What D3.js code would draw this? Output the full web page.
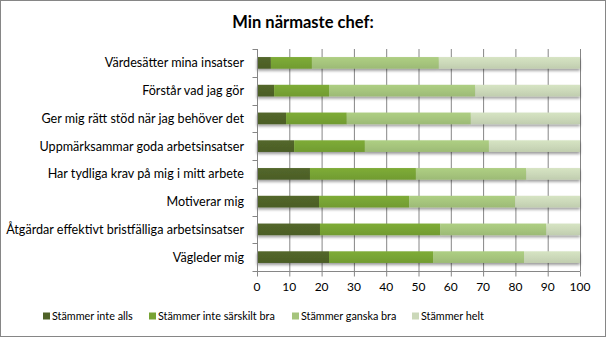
<!DOCTYPE html>
<html>
<head>
<meta charset="utf-8">
<script src="https://cdn.jsdelivr.net/npm/d3@7"></script>
<style>
  html, body { margin: 0; padding: 0; background: #fff; }
  svg { display: block; }
  text { font-family: Lato, "Open Sans", sans-serif; fill: #000; }
</style>
</head>
<body>
<svg id="chart" width="606" height="337"></svg>
<script>
// Survey statements (top to bottom)
const categories = [
  "Värdesätter mina insatser",
  "Förstår vad jag gör",
  "Ger mig rätt stöd när jag behöver det",
  "Uppmärksammar goda arbetsinsatser",
  "Har tydliga krav på mig i mitt arbete",
  "Motiverar mig",
  "Åtgärdar effektivt bristfälliga arbetsinsatser",
  "Vägleder mig"
];

// Answer options
const seriesNames = [
  "Stämmer inte alls",
  "Stämmer inte särskilt bra",
  "Stämmer ganska bra",
  "Stämmer helt"
];

// Percent of answers per statement, one array per answer option
const inteAlls      = [4.3, 5.3, 9.0, 11.5, 16.4, 19.2, 19.5, 22.3];
const inteSarskilt  = [12.7, 17.0, 18.8, 21.9, 32.8, 27.9, 37.2, 32.2];
const ganskaBra     = [39.3, 45.3, 38.4, 38.4, 34.2, 32.8, 32.9, 28.2];
const helt          = [43.7, 32.4, 33.8, 28.2, 16.6, 20.1, 10.4, 17.3];

const xTicks = [0, 10, 20, 30, 40, 50, 60, 70, 80, 90, 100];

const colors = ["#4f6228", "#77a334", "#a5c47c", "#cbd8b9"];

const svg = d3.select("#chart");
const W = 606, H = 337;

// outer frame
svg.append("rect")
  .attr("x", 0.5).attr("y", 0.5)
  .attr("width", W - 1).attr("height", H - 1)
  .attr("fill", "#fff").attr("stroke", "#868686");

const plot = { left: 257, right: 580, top: 49, bottom: 271 };

const x = d3.scaleLinear().domain([0, 100]).range([plot.left, plot.right]);
const y = d3.scaleBand().domain(categories)
  .range([plot.top, plot.bottom]).paddingInner(0.58).paddingOuter(0.29);

const defs = svg.append("defs");
const shadow = defs.append("filter").attr("id", "shadow")
  .attr("x", "-5%").attr("y", "-30%").attr("width", "110%").attr("height", "190%");
shadow.append("feGaussianBlur").attr("in", "SourceAlpha").attr("stdDeviation", 1.4);
shadow.append("feOffset").attr("dx", 0).attr("dy", 2.2).attr("result", "off");
shadow.append("feComponentTransfer").append("feFuncA").attr("type", "linear").attr("slope", 0.4);
const merge = shadow.append("feMerge");
merge.append("feMergeNode");
merge.append("feMergeNode").attr("in", "SourceGraphic");

colors.forEach((c, i) => {
  const g = defs.append("linearGradient").attr("id", "grad" + i)
    .attr("x1", 0).attr("y1", 0).attr("x2", 0).attr("y2", 1);
  g.append("stop").attr("offset", "0%").attr("stop-color", d3.color(c).brighter(0.15));
  g.append("stop").attr("offset", "55%").attr("stop-color", c);
  g.append("stop").attr("offset", "100%").attr("stop-color", d3.color(c).darker(0.15));
});

// vertical gridlines
svg.append("g").selectAll("line").data(xTicks).join("line")
  .attr("x1", d => x(d) + 0.5).attr("x2", d => x(d) + 0.5)
  .attr("y1", plot.top).attr("y2", plot.bottom)
  .attr("stroke", "#868686").attr("stroke-width", 1);

// stacked data
const rows = categories.map((cat, i) => ({
  cat,
  v0: inteAlls[i], v1: inteSarskilt[i], v2: ganskaBra[i], v3: helt[i]
}));
const stack = d3.stack().keys(["v0", "v1", "v2", "v3"])(rows);

const barsG = svg.append("g");
barsG.selectAll("g.bar").data(rows).join("g")
  .attr("filter", "url(#shadow)")
  .each(function (row, ri) {
    d3.select(this).selectAll("rect").data(stack.map((s, si) => ({ si, a: s[ri][0], b: s[ri][1] })))
      .join("rect")
      .attr("x", d => x(d.a))
      .attr("width", d => x(d.b) - x(d.a))
      .attr("y", y(row.cat))
      .attr("height", y.bandwidth())
      .attr("fill", d => `url(#grad${d.si})`);
  });

// y axis
const yAxis = svg.append("g").attr("transform", `translate(${plot.left + 0.5},0)`);
yAxis.append("line").attr("y1", plot.top).attr("y2", plot.bottom).attr("stroke", "#868686");
const bounds = d3.range(categories.length + 1).map(i => plot.top + i * y.step());
yAxis.selectAll("line.tick").data(bounds).join("line")
  .attr("class", "tick")
  .attr("x1", -5).attr("x2", 0)
  .attr("y1", d => Math.round(d) + 0.5).attr("y2", d => Math.round(d) + 0.5)
  .attr("stroke", "#868686");
svg.append("g").selectAll("text").data(categories).join("text")
  .attr("x", 244)
  .attr("y", d => y(d) + y.bandwidth() / 2)
  .attr("dy", "0.35em")
  .attr("text-anchor", "end")
  .attr("font-size", 12.6)
  .text(d => d);

// x axis
const xAxis = svg.append("g").attr("transform", `translate(0,${plot.bottom + 0.5})`);
xAxis.append("line").attr("x1", plot.left).attr("x2", plot.right + 0.5).attr("stroke", "#868686");
xAxis.selectAll("line.tick").data(xTicks).join("line")
  .attr("x1", d => x(d) + 0.5).attr("x2", d => x(d) + 0.5)
  .attr("y1", 0).attr("y2", 5).attr("stroke", "#868686");
xAxis.selectAll("text").data(xTicks).join("text")
  .attr("x", d => x(d))
  .attr("y", 15)
  .attr("dy", "0.35em")
  .attr("text-anchor", "middle")
  .attr("font-size", 12)
  .text(d => d);

// title
svg.append("text")
  .attr("x", 303).attr("y", 28)
  .attr("text-anchor", "middle")
  .attr("font-size", 16.5)
  .attr("font-weight", "bold")
  .text("Min närmaste chef:");

// legend
const legendX = [43, 149, 292, 412];
const legend = svg.append("g").selectAll("g").data(seriesNames).join("g")
  .attr("transform", (d, i) => `translate(${legendX[i]},316)`);
legend.append("rect")
  .attr("x", 0).attr("y", -3.5).attr("width", 7).attr("height", 7)
  .attr("fill", (d, i) => colors[i]);
legend.append("text")
  .attr("x", 9).attr("y", 0).attr("dy", "0.35em")
  .attr("font-size", 10.8)
  .text(d => d);
</script>
</body>
</html>
